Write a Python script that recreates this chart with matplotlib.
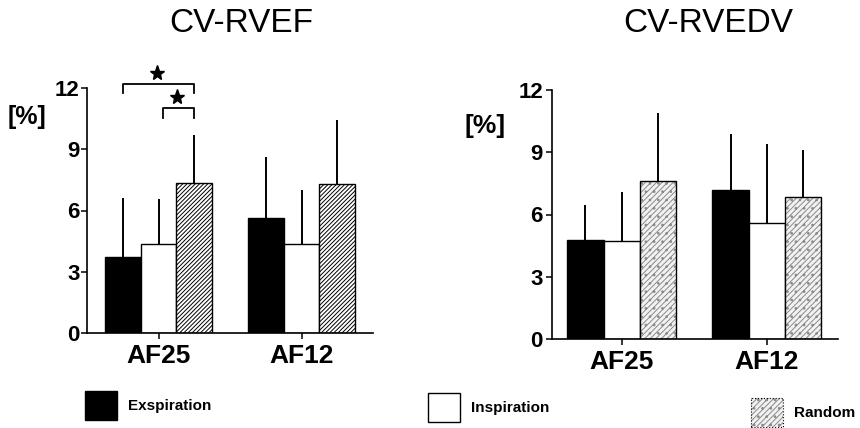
import numpy as np
import matplotlib.pyplot as plt
from matplotlib.patches import Patch

plt.rcParams['font.family'] = ['Liberation Sans', 'DejaVu Sans']
plt.rcParams['hatch.linewidth'] = 0.7

# Дані: середні значення та верхня похибка (SD)
groups = ['AF25', 'AF12']
series = ['Exspiration', 'Inspiration', 'Random']
yticks = [0, 3, 6, 9, 12]

rvef_exp = [3.7, 5.65]
rvef_exp_sd = [2.9, 2.95]
rvef_insp = [4.35, 4.35]
rvef_insp_sd = [2.2, 2.65]
rvef_rand = [7.35, 7.3]
rvef_rand_sd = [2.35, 3.15]

rvedv_exp = [4.75, 7.2]
rvedv_exp_sd = [1.7, 2.7]
rvedv_insp = [4.7, 5.6]
rvedv_insp_sd = [2.4, 3.8]
rvedv_rand = [7.6, 6.85]
rvedv_rand_sd = [3.3, 2.25]

W, H = 860, 428
fig = plt.figure(figsize=(W / 100, H / 100), dpi=100)

def fx(px):
    return px / W

def fy(px):
    return 1 - px / H

# Стилі: (колір заливки, штрихування, колір штриху)
styles = {
    'left': [('black', None, 'black'),
             ('white', None, 'black'),
             ('white', '////////', 'black')],
    'right': [('black', None, 'black'),
              ('white', None, 'black'),
              ('#f2f2f2', '//////..', '#8a8a8a')],
}

def draw_panel(ax, means, sds, style, width=0.25):
    x = np.arange(len(groups))
    offsets = [-width, 0, width]
    for m, s, off, (fc, hatch, hc) in zip(means, sds, offsets, style):
        if hatch is not None:
            ax.bar(x + off, m, width, color=fc, edgecolor=hc, linewidth=0,
                   hatch=hatch, zorder=2)
            ax.bar(x + off, m, width, fill=False, edgecolor='black',
                   linewidth=1.0, zorder=2)
        else:
            ax.bar(x + off, m, width, color=fc, edgecolor='black',
                   linewidth=1.0, zorder=2)
        ax.errorbar(x + off, m, yerr=[np.zeros(len(m)), s], fmt='none',
                    ecolor='black', elinewidth=1.4, capsize=0, zorder=3)
    ax.set_ylim(0, 12)
    ax.set_yticks(yticks)
    ax.set_xticks(x)
    ax.set_xticklabels(groups)
    for sp in ['top', 'right']:
        ax.spines[sp].set_visible(False)
    for sp in ['left', 'bottom']:
        ax.spines[sp].set_linewidth(1.2)
    ax.tick_params(axis='both', length=4, width=1.1)
    ax.tick_params(axis='y', labelsize=16, pad=1.5)
    ax.tick_params(axis='x', labelsize=19, pad=4)
    for lab in ax.get_xticklabels() + ax.get_yticklabels():
        lab.set_fontweight('bold')
    return x, offsets

# Ліва панель: CV-RVEF
ax1 = fig.add_axes([fx(87), fy(333), fx(373) - fx(87), fy(88) - fy(333)])
x1, off1 = draw_panel(ax1, [rvef_exp, rvef_insp, rvef_rand],
                      [rvef_exp_sd, rvef_insp_sd, rvef_rand_sd], styles['left'])
ax1.set_xlim(-0.5, 1.5)

# Дужки значущості
def bracket(ax, xa, xb, ytop, ydrop, xstar, ystar):
    ax.plot([xa, xa, xb, xb], [ytop - ydrop, ytop, ytop, ytop - ydrop],
            color='black', lw=1.3, clip_on=False, zorder=4)
    ax.plot([xstar], [ystar], marker='*', markersize=11, color='black',
            clip_on=False, zorder=4)

bracket(ax1, x1[0] + off1[0], x1[0] + off1[2], 12.2, 0.45, -0.01, 12.72)
bracket(ax1, x1[0] + off1[1] + 0.03, x1[0] + off1[2], 11.03, 0.5, 0.13, 11.55)

# Права панель: CV-RVEDV
ax2 = fig.add_axes([fx(552), fy(339), fx(838) - fx(552), fy(90) - fy(339)])
draw_panel(ax2, [rvedv_exp, rvedv_insp, rvedv_rand],
           [rvedv_exp_sd, rvedv_insp_sd, rvedv_rand_sd], styles['right'])
ax2.tick_params(axis='y', pad=2.5)
ax2.set_xlim(-0.48, 1.49)

# Заголовки та підписи осей
fig.text(fx(241), fy(23), 'CV-RVEF', ha='center', va='center', fontsize=24)
fig.text(fx(708), fy(23), 'CV-RVEDV', ha='center', va='center', fontsize=24)
fig.text(fx(8), fy(117), '[%]', ha='left', va='center', fontsize=18, fontweight='bold')
fig.text(fx(465), fy(126), '[%]', ha='left', va='center', fontsize=19, fontweight='bold')

# Легенда: три окремі елементи
leg_pos = [(85, 393), (428, 395), (751, 400)]
for name, (fc, hatch, hc), (px, py) in zip(series, styles['right'], leg_pos):
    if hatch is not None:
        handle = (Patch(facecolor=fc, edgecolor=hc, hatch=hatch, linewidth=0),
                  Patch(fill=False, edgecolor='black', linewidth=0.8, linestyle=':'))
    else:
        handle = Patch(facecolor=fc, edgecolor='black', linewidth=1.0)
    fig.legend([handle], [name], loc='upper left',
               bbox_to_anchor=(fx(px), fy(py - 2)), frameon=False,
               borderpad=0, borderaxespad=0, handlelength=2.1,
               handleheight=2.55, handletextpad=0.7,
               prop={'size': 11, 'weight': 'bold'})

fig.savefig('out.png', dpi=100)
